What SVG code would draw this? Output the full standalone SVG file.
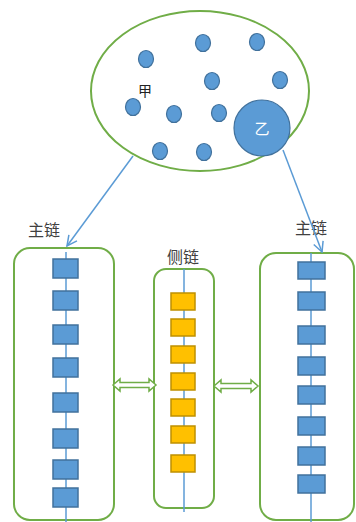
<svg xmlns="http://www.w3.org/2000/svg" width="356" height="522" viewBox="0 0 356 522">
<defs>
<style>
.grp{fill:none;stroke:#70ad47;stroke-width:2}
.dot{fill:#5b9bd5;stroke:#41719c;stroke-width:1.2}
.bsq{fill:#5b9bd5;stroke:#41719c;stroke-width:1.5}
.osq{fill:#ffc000;stroke:#bf9000;stroke-width:1.5}
.chain{stroke:#5b9bd5;stroke-width:1.5}
.lbl{font-family:"Noto Sans CJK SC","Liberation Sans",sans-serif;font-size:16px;fill:#404040;text-anchor:middle}
.conn{stroke:#5b9bd5;stroke-width:1.5;fill:none}
.dbl{fill:#fff;stroke:#70ad47;stroke-width:1.5}
</style>
<marker id="open" viewBox="0 0 12 12" refX="11" refY="6" markerWidth="12" markerHeight="12" markerUnits="userSpaceOnUse" orient="auto">
<path d="M1,1 L11,6 L1,11" fill="none" stroke="#5b9bd5" stroke-width="1.5"/>
</marker>
</defs>
<g id="pool">
<ellipse cx="200" cy="91" rx="109" ry="80" class="grp"/>
<ellipse cx="146" cy="59" rx="7.5" ry="8.5" class="dot"/>
<ellipse cx="203" cy="43" rx="7.5" ry="8.5" class="dot"/>
<ellipse cx="257" cy="42" rx="7.5" ry="8.5" class="dot"/>
<ellipse cx="212" cy="81" rx="7.5" ry="8.5" class="dot"/>
<ellipse cx="280" cy="80" rx="7.5" ry="8.5" class="dot"/>
<ellipse cx="133" cy="107" rx="7.5" ry="8.5" class="dot"/>
<ellipse cx="174" cy="114" rx="7.5" ry="8.5" class="dot"/>
<ellipse cx="219" cy="113" rx="7.5" ry="8.5" class="dot"/>
<ellipse cx="160" cy="151" rx="7.5" ry="8.5" class="dot"/>
<ellipse cx="204" cy="152" rx="7.5" ry="8.5" class="dot"/>
<text x="145" y="96" font-family="Noto Sans CJK SC,sans-serif" font-size="14" fill="#222" text-anchor="middle">甲</text>
</g>
<g id="yi">
<circle cx="262" cy="128" r="28" class="dot"/>
<text x="262" y="134" font-family="Noto Sans CJK SC,sans-serif" font-size="15" fill="#fff" text-anchor="middle">乙</text>
</g>
<g id="left-chain">
<text x="44" y="236" class="lbl">主链</text>
<rect x="14" y="248" width="100" height="272" rx="16" class="grp"/>
<line x1="66" y1="252" x2="66" y2="522" class="chain"/>
<rect x="53" y="259" width="25" height="19" class="bsq"/>
<rect x="53" y="291" width="25" height="19" class="bsq"/>
<rect x="53" y="325" width="25" height="19" class="bsq"/>
<rect x="53" y="358" width="25" height="19" class="bsq"/>
<rect x="53" y="393" width="25" height="19" class="bsq"/>
<rect x="53" y="429" width="25" height="19" class="bsq"/>
<rect x="53" y="460" width="25" height="19" class="bsq"/>
<rect x="53" y="488" width="25" height="19" class="bsq"/>
</g>
<g id="side-chain">
<text x="183" y="263" class="lbl">侧链</text>
<rect x="154" y="269" width="60" height="239" rx="12" class="grp"/>
<line x1="184" y1="269" x2="184" y2="512" class="chain"/>
<rect x="171" y="293" width="24" height="17" class="osq"/>
<rect x="171" y="319" width="24" height="17" class="osq"/>
<rect x="171" y="346" width="24" height="17" class="osq"/>
<rect x="171" y="373" width="24" height="17" class="osq"/>
<rect x="171" y="399" width="24" height="17" class="osq"/>
<rect x="171" y="426" width="24" height="17" class="osq"/>
<rect x="171" y="455" width="24" height="17" class="osq"/>
</g>
<g id="right-chain">
<text x="311" y="234" class="lbl">主链</text>
<rect x="260" y="253" width="94" height="267" rx="16" class="grp"/>
<line x1="311" y1="253" x2="311" y2="522" class="chain"/>
<rect x="298" y="262" width="27" height="17" class="bsq"/>
<rect x="298" y="292" width="27" height="18" class="bsq"/>
<rect x="298" y="326" width="27" height="18" class="bsq"/>
<rect x="298" y="357" width="27" height="18" class="bsq"/>
<rect x="298" y="386" width="27" height="18" class="bsq"/>
<rect x="298" y="417" width="27" height="18" class="bsq"/>
<rect x="298" y="447" width="27" height="18" class="bsq"/>
<rect x="298" y="475" width="27" height="18" class="bsq"/>
</g>
<g id="connectors">
<line x1="133" y1="156" x2="67" y2="246" class="conn" marker-end="url(#open)"/>
<line x1="283" y1="150" x2="322" y2="252" class="conn" marker-end="url(#open)"/>
<polygon points="113,385 120,379 120,382.5 149,382.5 149,379 156,385 149,391 149,387.5 120,387.5 120,391" class="dbl"/>
<polygon points="214,386 221,380 221,383.5 251,383.5 251,380 258,386 251,392 251,388.5 221,388.5 221,392" class="dbl"/>
</g>
</svg>
